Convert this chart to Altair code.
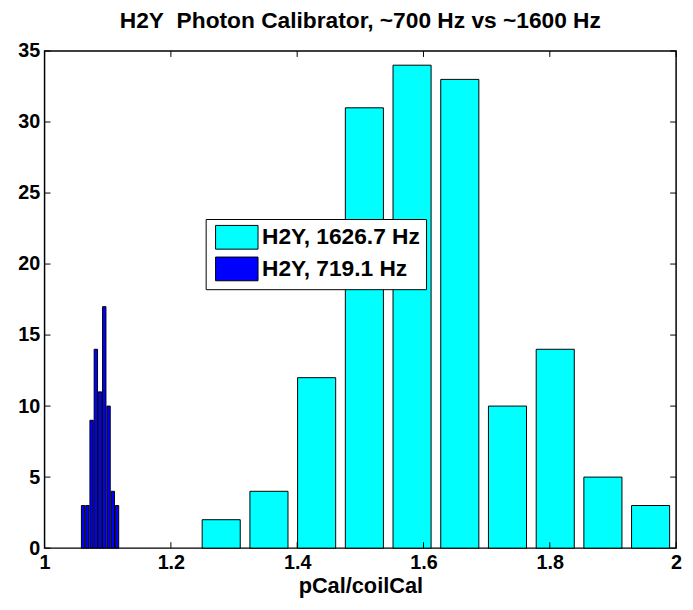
import altair as alt
import pandas as pd

# ---- data ----
cyan_centers = [1.2797, 1.3553, 1.4308, 1.5064, 1.5819, 1.6575, 1.7330, 1.8086, 1.8841, 1.9596]
cyan_counts = [2, 4, 12, 31, 34, 33, 10, 14, 5, 3]
cyan_bar_width = 0.0603

blue_centers = [1.0610, 1.0678, 1.0745, 1.0812, 1.0878, 1.0945, 1.1013, 1.1080, 1.1147]
blue_counts = [3, 3, 9, 14, 11, 17, 10, 4, 3]
blue_bar_width = 0.00536

series_labels = ["H2Y, 1626.7 Hz", "H2Y, 719.1 Hz"]
series_colors = ["#00FFFF", "#0000FF"]

x_ticks = [1.0, 1.2, 1.4, 1.6, 1.8, 2.0]
y_ticks = [0, 5, 10, 15, 20, 25, 30, 35]

title_text = "H2Y\u00a0 Photon Calibrator, ~700 Hz vs ~1600 Hz"
x_title = "pCal/coilCal"

# ---- build table ----
rows = []
for c, n in zip(cyan_centers, cyan_counts):
    rows.append({"lo": c - cyan_bar_width / 2, "hi": c + cyan_bar_width / 2, "count": n, "series": series_labels[0]})
for c, n in zip(blue_centers, blue_counts):
    rows.append({"lo": c - blue_bar_width / 2, "hi": c + blue_bar_width / 2, "count": n, "series": series_labels[1]})
df = pd.DataFrame(rows)

W, H = 639, 503
TICK = 6
FONT = "Liberation Sans"

xscale = alt.Scale(domain=[1, 2], nice=False, zero=False)
yscale = alt.Scale(domain=[0, 35], nice=False)
xaxis = alt.Axis(values=x_ticks, format="~g", title=x_title, labelFlush=False,
                 labelPadding=5, titlePadding=3, labelOverlap=False)
yaxis = alt.Axis(values=y_ticks, title=None, labelPadding=5, labelOverlap=False)

bars = alt.Chart(df).mark_bar(stroke="black", strokeWidth=1).encode(
    x=alt.X("lo:Q", scale=xscale, axis=xaxis, title=x_title),
    x2="hi:Q",
    y=alt.Y("count:Q", scale=yscale, axis=yaxis, title=None),
    y2=alt.datum(0),
    color=alt.Color("series:N",
                    scale=alt.Scale(domain=series_labels, range=series_colors),
                    legend=alt.Legend(title=None, orient="none", legendX=163, legendY=170,
                                      fillColor="white", strokeColor="black", padding=6,
                                      symbolType="M-1.79,-1H1.79V1H-1.79Z", symbolSize=576,
                                      symbolStrokeColor="black", symbolStrokeWidth=1,
                                      symbolOffset=13, labelOffset=13,
                                      labelFont=FONT, labelFontWeight="bold", labelFontSize=23,
                                      labelColor="black", rowPadding=3, symbolOpacity=1)),
)

xt = pd.DataFrame({"v": x_ticks})
yt = pd.DataFrame({"v": y_ticks})

tick_bottom = alt.Chart(xt).mark_rule(color="black", strokeWidth=1).encode(
    x=alt.X("v:Q", scale=xscale, axis=xaxis, title=x_title), y=alt.value(H), y2=alt.value(H - TICK))
tick_top = alt.Chart(xt).mark_rule(color="black", strokeWidth=1).encode(
    x=alt.X("v:Q", scale=xscale, axis=xaxis, title=x_title), y=alt.value(0), y2=alt.value(TICK))
tick_left = alt.Chart(yt).mark_rule(color="black", strokeWidth=1).encode(
    y=alt.Y("v:Q", scale=yscale, axis=yaxis, title=None), x=alt.value(0), x2=alt.value(TICK))
tick_right = alt.Chart(yt).mark_rule(color="black", strokeWidth=1).encode(
    y=alt.Y("v:Q", scale=yscale, axis=yaxis, title=None), x=alt.value(W), x2=alt.value(W - TICK))

chart = alt.layer(bars, tick_bottom, tick_top, tick_left, tick_right).properties(
    width=W, height=H,
    title=alt.TitleParams(text=title_text, font=FONT, fontSize=23, fontWeight="bold",
                          anchor="middle", frame="group", offset=8, color="black"),
    padding={"left": 37, "top": 40, "right": 9, "bottom": 50},
    autosize=alt.AutoSizeParams(type="none"),
).configure_view(stroke="black", strokeWidth=1.5).configure_axis(
    domain=False, ticks=False, grid=False,
    labelFont=FONT, labelFontWeight="bold", labelFontSize=20, labelColor="black",
    titleFont=FONT, titleFontWeight="bold", titleFontSize=22, titleColor="black",
)

chart.save("out.html", embed_options={"renderer": "svg", "actions": False})
